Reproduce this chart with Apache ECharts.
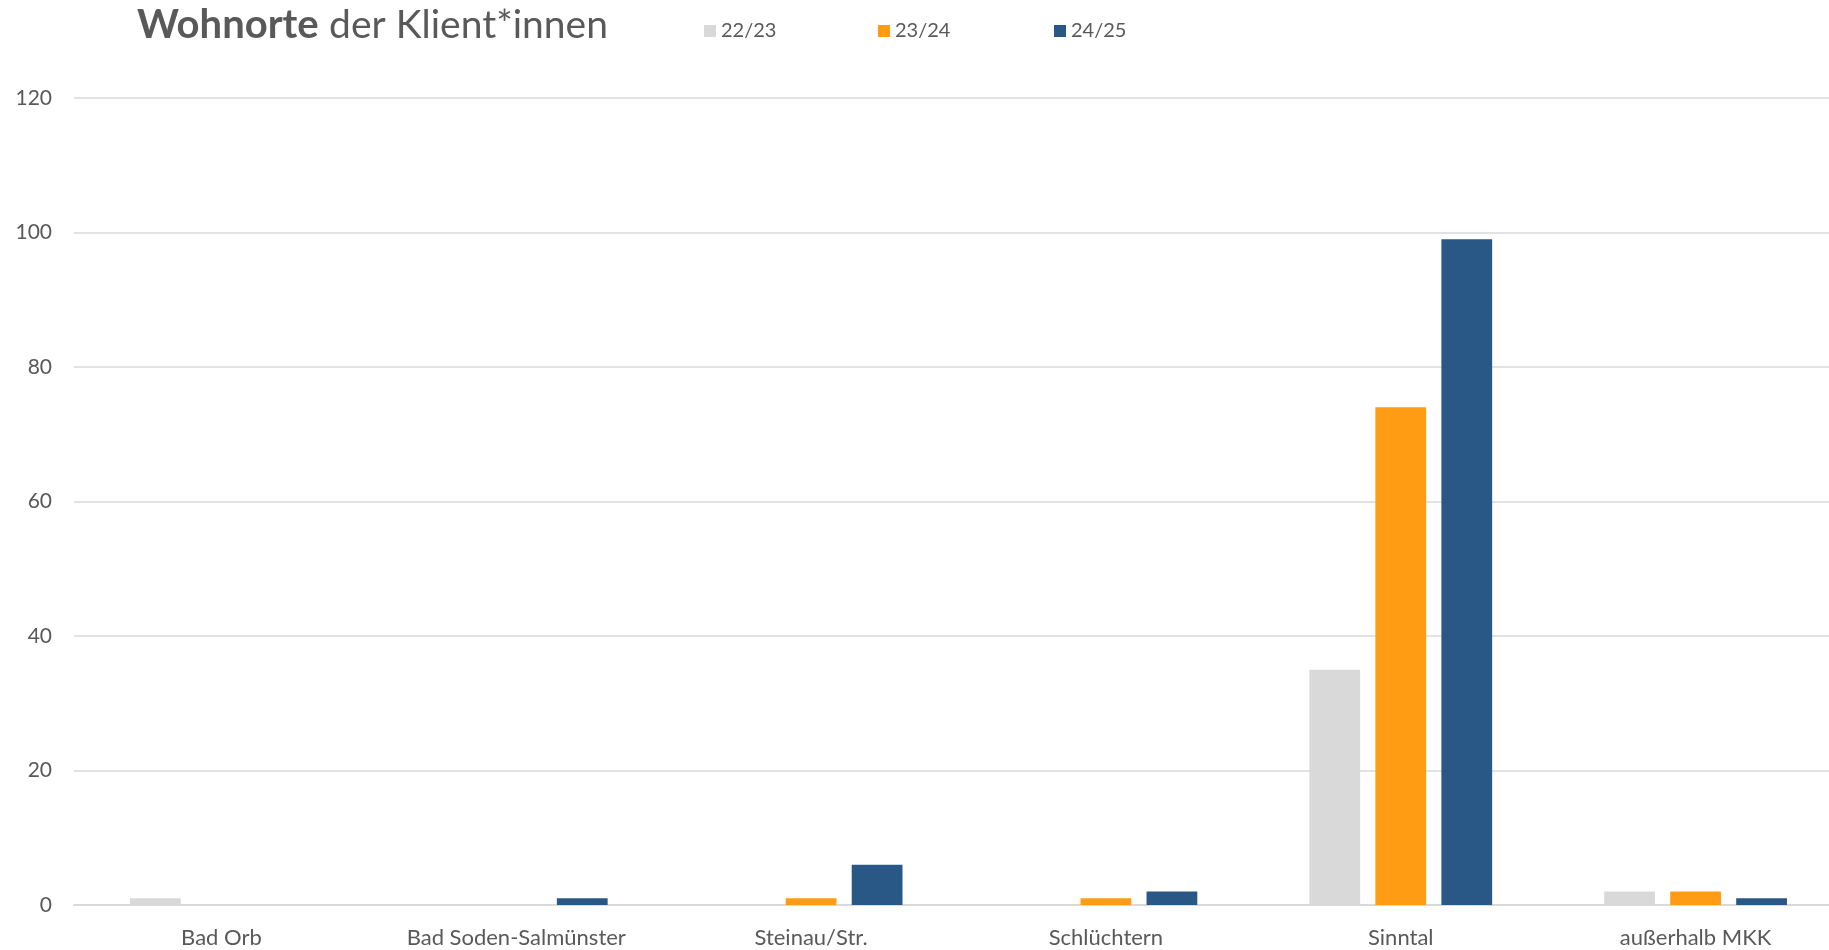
<!DOCTYPE html>
<html><head><meta charset="utf-8">
<script src="https://cdn.jsdelivr.net/npm/echarts@6/dist/echarts.min.js"></script>
<style>html,body{margin:0;padding:0;background:#fff;overflow:hidden}#c{width:1843px;height:950px}</style>
</head><body><div id="c"></div>
<script>
const categories = ['Bad Orb', 'Bad Soden-Salmünster', 'Steinau/Str.', 'Schlüchtern', 'Sinntal', 'außerhalb MKK'];
const seriesNames = ['22/23', '23/24', '24/25'];
const v2223 = [1, 0, 0, 0, 35, 2];
const v2324 = [0, 0, 1, 1, 74, 2];
const v2425 = [0, 1, 6, 2, 99, 1];
const colors = ['#d9d9d9', '#ff9c14', '#2a5886'];
const values = [v2223, v2324, v2425];
const legendLeft = [699, 873, 1049];
const F = 'Lato, "Open Sans", sans-serif';
const chart = echarts.init(document.getElementById('c'), null, {renderer: 'canvas'});
chart.setOption({
  animation: false,
  textStyle: {fontFamily: F},
  title: {
    text: '{b|Wohnorte} {n|der Klient*innen}',
    left: 132, top: 0,
    textStyle: {
      rich: {
        b: {fontFamily: F, fontSize: 40, fontWeight: 'bold', color: '#595959'},
        n: {fontFamily: F, fontSize: 39, fontWeight: 'normal', color: '#595959', padding: [0, 0, 0, 6]}
      }
    }
  },
  legend: seriesNames.map((n, i) => ({
    left: legendLeft[i], top: 16,
    itemWidth: 12, itemHeight: 12, itemGap: 10,
    icon: 'rect',
    textStyle: {fontFamily: F, fontSize: 20, color: '#595959'},
    data: [n]
  })),
  grid: {left: 74, right: 0, top: 98, bottom: 45, containLabel: false},
  xAxis: {
    type: 'category', data: categories,
    axisLine: {lineStyle: {color: '#d9d9d9', width: 2}},
    axisTick: {show: false},
    axisLabel: {fontFamily: F, fontSize: 22, color: '#595959', margin: 22}
  },
  yAxis: {
    type: 'value', min: 0, max: 120, interval: 20,
    axisLine: {show: false}, axisTick: {show: false},
    splitLine: {lineStyle: {color: '#d9d9d9', width: 1.5}},
    axisLabel: {fontFamily: F, fontSize: 21, color: '#595959', margin: 22}
  },
  series: seriesNames.map((n, i) => ({
    name: n, type: 'bar', data: values[i],
    barGap: '30%', barCategoryGap: '38%',
    itemStyle: {color: colors[i]}
  }))
});
</script></body></html>
